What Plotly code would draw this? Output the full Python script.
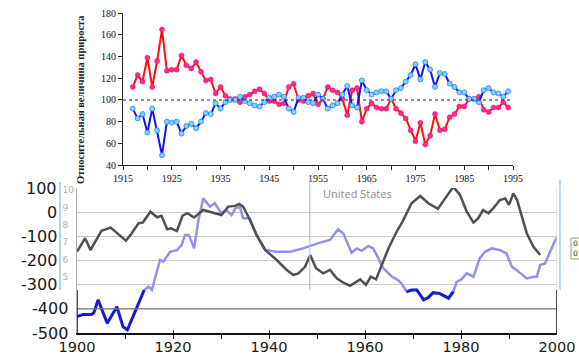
import plotly.graph_objects as go

W, H = 579, 358

# ---------------- top chart data ----------------
top_years = list(range(1917, 1995))
red_vals = [112, 123, 117, 139, 112, 136, 165, 127, 128, 128, 141, 132, 129, 135, 126, 118, 119, 106, 112, 104,
            101, 101, 98, 103, 105, 108, 110, 106, 99, 99, 96, 97, 112, 115, 100, 99, 104, 106, 96, 101,
            112, 109, 107, 101, 86, 109, 111, 80, 92, 97, 93, 92, 92, 101, 92, 88, 83, 72, 62, 79,
            59, 67, 87, 72, 73, 84, 87, 94, 94, 101, 101, 103, 91, 89, 93, 93, 98, 93]
blue_vals = [92, 83, 87, 70, 92, 72, 49, 80, 79, 80, 69, 76, 78, 74, 80, 88, 87, 97, 92, 98,
             100, 100, 103, 99, 97, 95, 94, 98, 102, 103, 105, 103, 92, 89, 102, 102, 98, 97, 105, 101,
             92, 95, 97, 105, 113, 95, 93, 118, 109, 105, 107, 108, 108, 101, 109, 111, 117, 123, 133, 119,
             135, 128, 112, 125, 124, 115, 112, 107, 107, 101, 101, 98, 109, 111, 107, 106, 103, 108]
top_xticks = list(range(1915, 1996, 10))
top_yticks = list(range(40, 181, 20))
top_ytitle = "Относительная величина прироста"

# ---------------- bottom chart data ----------------
gray_years = [1900, 1901.7, 1902.8, 1905.1, 1907, 1908.6, 1910.2, 1911.4, 1912.8, 1913.7, 1915.3, 1916.7,
              1917.6, 1918.8, 1919.6, 1920.8, 1922, 1923, 1924.4, 1926.3, 1927.7, 1930.1, 1931.5, 1932.9,
              1933.8, 1934.6, 1935.7, 1937.4, 1939.2, 1941.6, 1943.7, 1945.1, 1946.1, 1947.5, 1948.6, 1949.8,
              1951.3, 1952.7, 1954.1, 1955.5, 1956.9, 1958.3, 1959, 1960.2, 1961.2, 1962.3, 1963.5, 1964.9,
              1966.6, 1968, 1969.7, 1971.5, 1973.2, 1975.2, 1976.7, 1978.4, 1979.8, 1981.2, 1982.6, 1983.6,
              1984.6, 1985.7, 1986.7, 1988.1, 1989.2, 1990, 1990.9, 1991.7, 1992.6, 1993.7, 1995.1, 1996.5]
gray_vals = [-163, -108, -157, -77, -64, -90, -118, -87, -46, -43, 2, -21,
             -15, -71, -67, -78, -14, -4, -22, 9, 2, -12, 23, 26,
             34, 23, -19, -94, -156, -198, -239, -260, -253, -226, -177, -232,
             -253, -239, -274, -292, -305, -285, -278, -301, -267, -278, -219, -149,
             -81, -32, 37, 67, 37, 14, 57, 105, 71, 2, -43, -25,
             9, -5, 16, 50, 57, 30, 78, 50, -12, -87, -143, -177]

dark_years_a = [1900, 1901.3, 1903, 1903.5, 1904.4, 1906.3, 1908.3, 1909.6, 1910.5, 1912.1, 1914]
dark_vals_a = [-432, -423, -423, -416, -363, -460, -391, -474, -487, -412, -322]

light_years = [1914, 1914.9, 1915.6, 1917.3, 1918, 1919.4, 1920.8, 1921.8, 1922.5, 1923.3, 1924.4, 1925.3,
               1926.3, 1927.7, 1928.7, 1930.1, 1931.1, 1932.2, 1933, 1933.9, 1934.6, 1936, 1937.4, 1939.2,
               1941.6, 1944.4, 1947.1, 1950.6, 1952.7, 1954.4, 1955.5, 1957.2, 1958.3, 1959.3, 1960.7, 1961.7,
               1962.8, 1963.8, 1965.6, 1966.9, 1967.6, 1968.7, 1969.7, 1970.8, 1972.2, 1973.2, 1974.2, 1975.5,
               1977.4, 1978.4, 1979.1, 1980.1, 1981.2, 1982.6, 1983.9, 1985, 1986.4, 1988.1, 1989.5, 1990.6,
               1992, 1993.7, 1995.1, 1995.8, 1996.5, 1997.5, 1999.9]
light_vals = [-322, -308, -322, -198, -205, -164, -157, -136, -94, -94, -150, -32,
              57, 23, 37, -5, 9, -12, 16, 23, -25, -25, -94, -156,
              -164, -164, -150, -126, -115, -71, -88, -168, -150, -160, -140, -150,
              -191, -232, -267, -281, -295, -329, -322, -322, -363, -353, -333, -336,
              -356, -329, -288, -278, -253, -267, -191, -164, -150, -157, -171, -226,
              -246, -274, -267, -267, -219, -212, -105]

dark_years_b = [1968.7, 1969.7, 1970.8, 1972.2, 1973.2, 1974.2, 1975.5, 1977.4, 1978.4]
dark_vals_b = [-329, -322, -322, -363, -353, -333, -336, -356, -329]

bottom_yticks = [100, 0, -100, -200, -300, -400, -500]
inner_ticks = [5, 6, 7, 8, 9, 10]
label_text = "United States"


def px_x(p):
    return p / W


def px_y(p):
    return 1 - p / H


fig = go.Figure()

fig.add_trace(go.Scatter(x=top_years, y=red_vals, mode="lines+markers", xaxis="x", yaxis="y",
                         line=dict(color="#ff1010", width=2),
                         marker=dict(size=5, color="#ff2a8a", line=dict(color="#e0106a", width=0.5))))
fig.add_trace(go.Scatter(x=top_years, y=blue_vals, mode="lines+markers", xaxis="x", yaxis="y",
                         line=dict(color="#1010ff", width=2),
                         marker=dict(size=5, color="#7fd4ff", line=dict(color="#2a7fff", width=0.8))))

fig.add_trace(go.Scatter(x=light_years, y=light_vals, mode="lines", xaxis="x2", yaxis="y2",
                         line=dict(color="#9090ee", width=2.5)))
fig.add_trace(go.Scatter(x=dark_years_a, y=dark_vals_a, mode="lines", xaxis="x2", yaxis="y2",
                         line=dict(color="#1a1ad0", width=3)))
fig.add_trace(go.Scatter(x=dark_years_b, y=dark_vals_b, mode="lines", xaxis="x2", yaxis="y2",
                         line=dict(color="#1a1ad0", width=3)))
fig.add_trace(go.Scatter(x=gray_years, y=gray_vals, mode="lines", xaxis="x2", yaxis="y2",
                         line=dict(color="#505050", width=2.5)))
fig.add_trace(go.Scatter(x=[], y=[], xaxis="x2", yaxis="y3", showlegend=False))

serif = dict(family="Liberation Serif", size=10, color="#111")
big = dict(family="DejaVu Sans", size=16, color="#1a1a1a")
bigx = dict(family="DejaVu Sans", size=14.5, color="#1a1a1a")

shapes = [
    dict(type="line", xref="x", yref="y", x0=1915, x1=1995, y0=100, y1=100,
         line=dict(color="#222", width=1, dash="dot")),
    dict(type="line", xref="x2", yref="y2", x0=1900, x1=2000, y0=-400, y1=-400,
         line=dict(color="#7a7a7a", width=1.2)),
    dict(type="line", xref="x2", yref="paper", x0=1900, x1=1900, y0=px_y(333), y1=px_y(290),
         line=dict(color="#111", width=1.5)),
    dict(type="line", xref="x2", yref="paper", x0=2000, x1=2000, y0=px_y(333), y1=px_y(290),
         line=dict(color="#111", width=1.5)),
    dict(type="line", xref="x2", yref="paper", x0=1948.5, x1=1948.5, y0=px_y(290), y1=px_y(178),
         line=dict(color="#a8cbe6", width=1.2)),
    dict(type="line", xref="paper", yref="paper", x0=px_x(560), x1=px_x(560), y0=px_y(290), y1=px_y(180),
         line=dict(color="#a8cbe6", width=1.5)),
    dict(type="line", xref="x2", yref="paper", x0=2000, x1=2000, y0=px_y(290), y1=px_y(188),
         line=dict(color="#c8c8c8", width=1)),
    dict(type="rect", xref="paper", yref="paper", x0=px_x(571), x1=px_x(582), y0=px_y(259), y1=px_y(238),
         fillcolor="#ffffe1", line=dict(color="#999", width=1)),
]

annotations = [
    dict(text="<b>" + top_ytitle + "</b>", xref="paper", yref="paper", x=px_x(80), y=px_y(100), textangle=-90,
         showarrow=False, font=dict(family="Liberation Serif", size=10.5, color="#222"),
         xanchor="center", yanchor="middle"),
    dict(text=label_text, xref="paper", yref="paper", x=px_x(321), y=px_y(193), showarrow=False,
         xanchor="left", yanchor="middle", font=dict(family="Open Sans", size=11, color="#8a8a8a")),
    dict(text="0<br>0", xref="paper", yref="paper", x=px_x(572), y=px_y(248), showarrow=False,
         xanchor="left", yanchor="middle", font=dict(family="DejaVu Sans", size=7.5, color="#333"),
         borderpad=0),
]
for v in bottom_yticks:
    right = 59 if v > -350 else 70
    annotations.append(dict(text=str(v), xref="paper", yref="y2",
                            x=px_x(right), y=v, showarrow=False, xanchor="right", yanchor="middle",
                            font=big))

fig.update_layout(
    template="none",
    width=W, height=H, autosize=False,
    margin=dict(l=0, r=0, t=0, b=0, pad=0),
    paper_bgcolor="white", plot_bgcolor="rgba(0,0,0,0)",
    showlegend=False,
    xaxis=dict(domain=[px_x(123), px_x(513)], range=[1915, 1995], anchor="y", automargin=False,
               tickvals=top_xticks, ticks="outside", ticklen=4, tickcolor="#222",
               minor=dict(dtick=5, tick0=1915, ticks="outside", ticklen=4, tickcolor="#222"),
               showline=True, linecolor="#222", linewidth=1, showgrid=False, zeroline=False,
               tickfont=serif),
    yaxis=dict(domain=[px_y(165), px_y(13.3)], range=[40, 180], anchor="x", automargin=False,
               tickvals=top_yticks, ticks="outside", ticklen=4, tickcolor="#222",
               showline=True, linecolor="#222", linewidth=1, showgrid=False, zeroline=False,
               tickfont=serif),
    xaxis2=dict(domain=[px_x(77), px_x(557)], range=[1900, 2000], anchor="y2", automargin=False,
                dtick=20, tick0=1900, ticks="inside", ticklen=3, tickcolor="#111",
                minor=dict(dtick=10, tick0=1900, ticks="outside", ticklen=4, tickcolor="#111"),
                showline=True, linecolor="#111", linewidth=1.5, showgrid=False, zeroline=False,
                tickfont=bigx),
    yaxis2=dict(domain=[px_y(333), px_y(188)], range=[-500, 100], anchor="x2", automargin=False,
                dtick=100, showticklabels=False, ticks="", showgrid=True, gridcolor="#cdcdcd",
                gridwidth=1, showline=True, linecolor="#b0b0b0", linewidth=1, zeroline=False),
    yaxis3=dict(domain=[px_y(290), px_y(182)], range=[10 - 100 / 17.4, 10 + 8 / 17.4],
                anchor="free", position=px_x(60), side="right", automargin=False,
                tickvals=inner_ticks, ticktext=[str(t) for t in inner_ticks], ticks="",
                showline=True, linecolor="#b8d4ea", linewidth=1.5, showgrid=False, zeroline=False,
                tickfont=dict(family="DejaVu Sans", size=9, color="#b0b0b0")),
    shapes=shapes,
    annotations=annotations,
)

post = ("document.body.style.margin='0';document.body.style.padding='0';"
        "document.body.style.overflow='hidden';")
fig.write_html("out.html", config={"responsive": False, "displayModeBar": False}, post_script=post)
